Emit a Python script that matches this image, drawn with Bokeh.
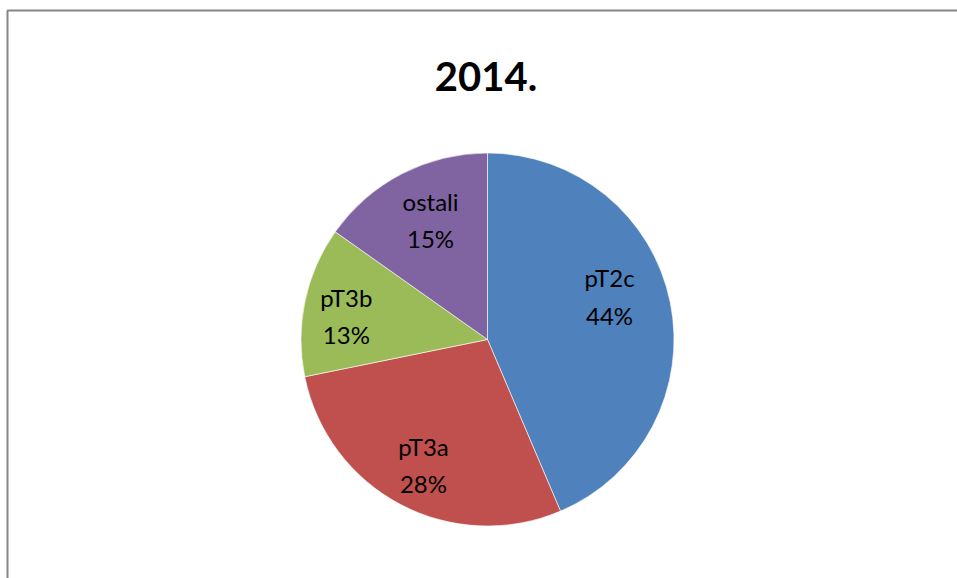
import math
from bokeh.plotting import figure
from bokeh.models import Range1d, Label, BoxAnnotation, ColumnDataSource
from bokeh.core.properties import value
from bokeh.embed import file_html
from bokeh.resources import INLINE

# ---- data ----
title_text = "2014."
categories = ["pT2c", "pT3a", "pT3b", "ostali"]
shares = [43.6, 28.2, 13.0, 15.2]
colors = ["#4F81BD", "#C0504D", "#9BBB59", "#8064A2"]

# ---- layout constants (pixels) ----
W, H = 957, 578
CX, CY = 487, 339          # pie centre in screen coords
R = 186.5
label_radial = [0.694, 0.756, 0.767, 0.708]
label_angle_nudge = [-7.9, -0.7, -2.6, 1.8]   # degrees, clockwise

p = figure(width=W, height=H, output_backend="svg", toolbar_location=None,
           x_range=Range1d(0, W), y_range=Range1d(0, H), min_border=0)
p.axis.visible = False
p.grid.visible = False
p.outline_line_color = None
p.background_fill_color = "white"
p.border_fill_color = "white"

total = sum(shares)
cum = [0.0]
for s in shares:
    cum.append(cum[-1] + s)

starts, ends, lx, ly, texts = [], [], [], [], []
for i, s in enumerate(shares):
    f0, f1 = cum[i] / total, cum[i + 1] / total
    starts.append(math.pi / 2 - 2 * math.pi * f1)
    ends.append(math.pi / 2 - 2 * math.pi * f0)
    mid_deg = 360 * (f0 + f1) / 2 + label_angle_nudge[i]
    a = math.radians(mid_deg)
    d = label_radial[i] * R
    lx.append(CX + d * math.sin(a))
    ly.append(H - (CY - d * math.cos(a)))
    texts.append(f"{categories[i]}\n{round(100 * s / total)}%")

src = ColumnDataSource(dict(start=starts, end=ends, color=colors,
                            lx=lx, ly=ly, text=texts))
p.wedge(x=CX, y=H - CY, radius=R, start_angle="start", end_angle="end",
        direction="anticlock", fill_color="color", line_color="white",
        line_width=0.6, source=src)

p.text(x="lx", y="ly", text="text", source=src, text_align="center",
       text_baseline="middle", text_font=value("Lato"),
       text_font_size="24px", text_color="#000000", text_line_height=1.28)

p.add_layout(Label(x=485.5, y=H - 76, text=title_text, text_align="center",
                   text_baseline="alphabetic", text_font="Lato",
                   text_font_style="bold", text_font_size="40px",
                   text_color="#000000"))

p.add_layout(BoxAnnotation(left=7, right=W + 20, top=H - 10, bottom=-20,
                           fill_alpha=0, line_color="#868686", line_width=2,
                           line_alpha=1.0))

open("out.html", "w").write(file_html(p, INLINE))
